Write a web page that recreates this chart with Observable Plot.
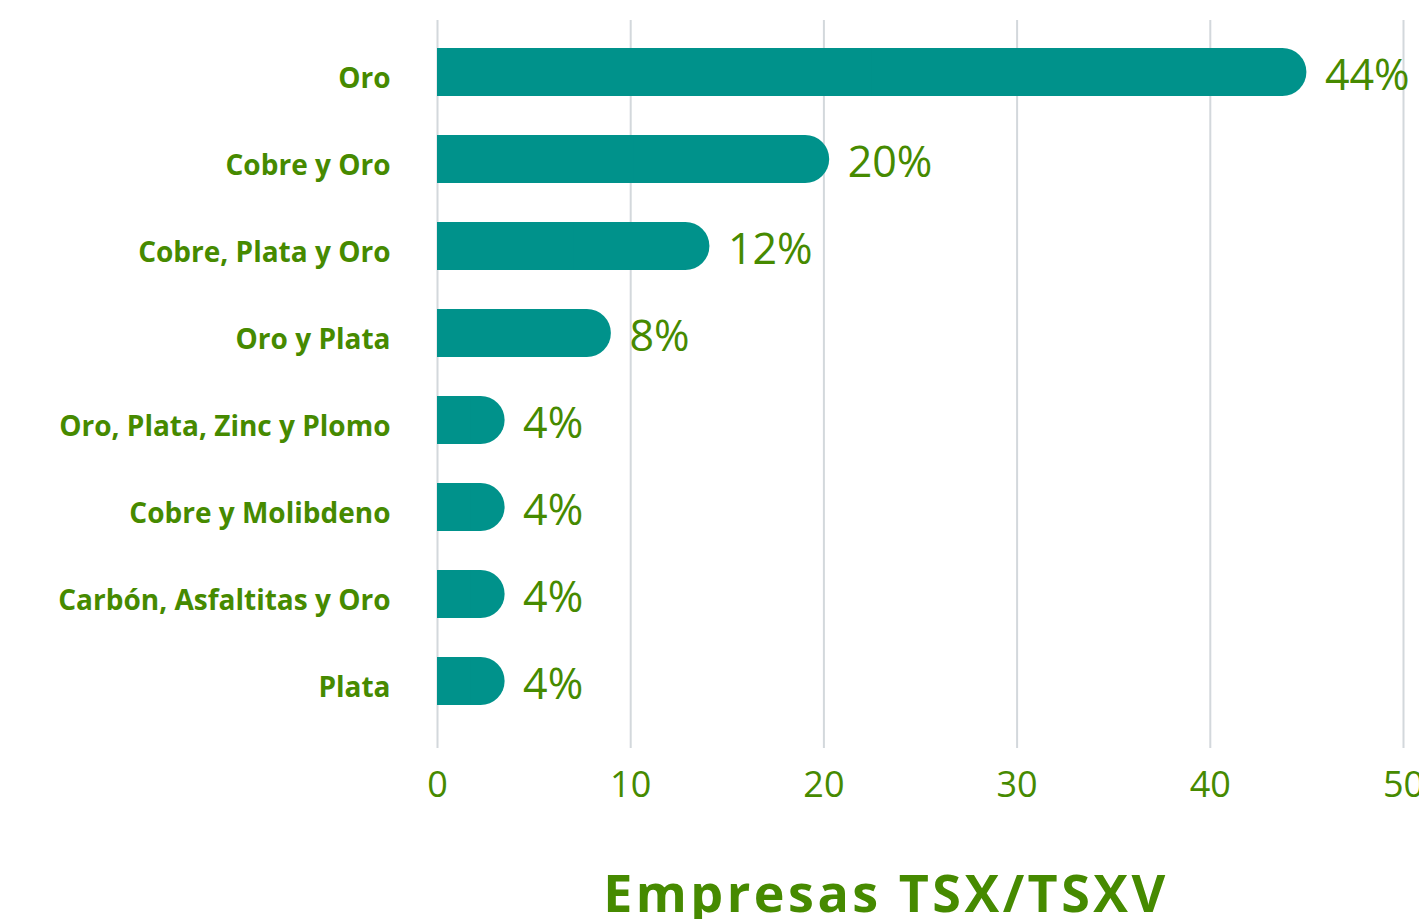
<!DOCTYPE html>
<html>
<head>
<meta charset="utf-8">
<script src="https://cdn.jsdelivr.net/npm/d3@7"></script>
<script src="https://cdn.jsdelivr.net/npm/@observablehq/plot@0.6"></script>
<style>
  html, body { margin: 0; padding: 0; background: #ffffff; overflow: hidden; }
  #wrap { position: relative; width: 1419px; height: 919px; }
  #title { position: absolute; left: 436px; width: 900px; top: 866px; text-align: center;
           font-family: "Open Sans", sans-serif; font-weight: 700; font-size: 52px; line-height: 1;
           color: #468a00; letter-spacing: 3.5px; white-space: nowrap; }
</style>
</head>
<body>
<div id="wrap"><div id="chart"></div><div id="title">Empresas TSX/TSXV</div></div>
<script>
const categories = ["Oro", "Cobre y Oro", "Cobre, Plata y Oro", "Oro y Plata", "Oro, Plata, Zinc y Plomo", "Cobre y Molibdeno", "Carbón, Asfaltitas y Oro", "Plata"];
const barLengths = [45, 20.3, 14.1, 9, 3.5, 3.5, 3.5, 3.5];
const percentLabels = ["44%", "20%", "12%", "8%", "4%", "4%", "4%", "4%"];
const xTicks = [0, 10, 20, 30, 40, 50];

const green = "#468a00";
const teal = "#00928b";
const data = categories.map((c, i) => ({cat: c, v: barLengths[i], label: percentLabels[i]}));

const chart = Plot.plot({
  width: 1419,
  height: 830,
  marginLeft: 437,
  marginRight: 16,
  marginTop: 20,
  marginBottom: 82,
  style: {fontFamily: "'Open Sans', sans-serif", background: "transparent", overflow: "visible"},
  x: {domain: [0, 50]},
  y: {domain: categories, paddingInner: 0.451, paddingOuter: 0.39, align: 0.4},
  marks: [
    Plot.gridX(xTicks, {stroke: "#d3d8dc", strokeOpacity: 1, strokeWidth: 2}),
    Plot.barX(data, {x: "v", y: "cat", fill: teal, rx: 24}),
    Plot.barX(data, {x: d => d.v / 2, y: "cat", fill: teal}),
    Plot.text(data, {x: "v", y: "cat", text: "label", textAnchor: "start", dx: 18, dy: 4, fontSize: 43, fill: green}),
    Plot.axisX(xTicks, {tickSize: 0, tickPadding: 23, fontSize: 36, fill: green, label: null}),
    Plot.axisY({tickSize: 0, tickPadding: 47, fontSize: 28, fontWeight: 700, fill: green, dy: 7, label: null})
  ]
});
document.getElementById("chart").appendChild(chart);
</script>
</body>
</html>
